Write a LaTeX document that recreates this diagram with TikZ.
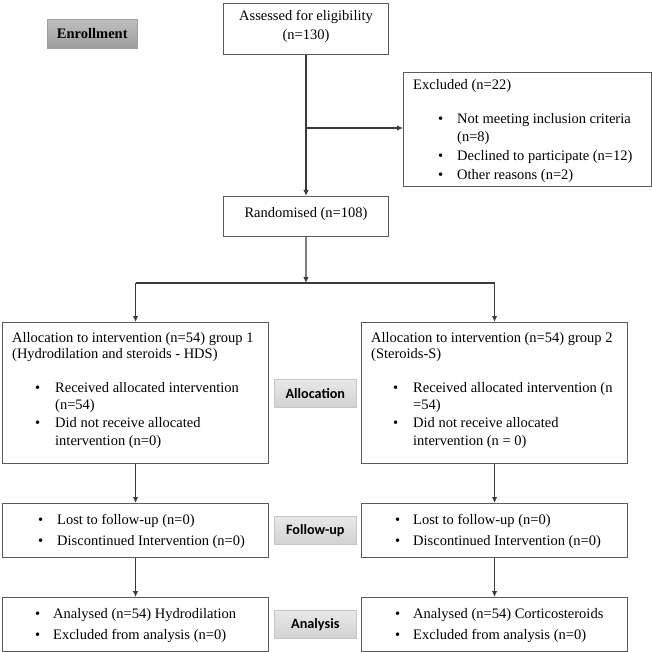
\documentclass[tikz,border=0pt]{standalone}
\usepackage{fontspec}
\setmainfont{Liberation Serif}
\newfontfamily\lblfont{Carlito}
\usetikzlibrary{arrows.meta,calc}
\definecolor{boxgray}{HTML}{5A5A5A}
\definecolor{linegray}{HTML}{3A3A3A}
\begin{document}
\begin{tikzpicture}[x=1pt,y=-1pt,
  box/.style={draw=boxgray, line width=1.1pt, rectangle, inner sep=0pt, anchor=north west, fill=white},
  txt/.style={inner sep=0pt, font=\fontsize{14.5}{17}\selectfont, text=black},
  enrstage/.style={rectangle, inner sep=0pt, anchor=north west, draw=gray!75, line width=0.6pt,
     top color=gray!50, bottom color=gray!78, font=\fontsize{14.5}{17}\selectfont\bfseries},
  stagelbl/.style={rectangle, inner sep=0pt, anchor=north west, draw=gray!45, line width=0.6pt,
     top color=gray!18, bottom color=gray!35, font=\lblfont\fontsize{14.2}{17}\selectfont\bfseries, minimum width=82pt, minimum height=28pt},
  arr/.style={draw=linegray, line width=1.3pt, -{Latex[length=6pt,width=5.5pt]}},
  ln/.style={draw=linegray, line width=1.3pt}
]
\useasboundingbox (0,0) rectangle (652,652);

% stage labels
\node[enrstage, minimum width=90pt, minimum height=29pt] (enr) at (47,19) {Enrollment};
\node[stagelbl] (alo) at (274,379) {Allocation};
\node[stagelbl] (fol) at (274,516) {Follow-up};
\node[stagelbl] (ana) at (274,610) {Analysis};

% boxes
\node[box, minimum width=165pt, minimum height=51pt] (assess) at (223,3) {};
\node[box, minimum width=248pt, minimum height=114pt] (excl) at (403,72) {};
\node[box, minimum width=165pt, minimum height=40pt] (rand) at (223,196) {};
\node[box, minimum width=266pt, minimum height=141pt] (a1) at (2,322) {};
\node[box, minimum width=266pt, minimum height=141pt] (a2) at (361,322) {};
\node[box, minimum width=266pt, minimum height=54pt] (f1) at (2,503) {};
\node[box, minimum width=266pt, minimum height=54pt] (f2) at (361,503) {};
\node[box, minimum width=266pt, minimum height=54pt] (n1) at (2,597) {};
\node[box, minimum width=266pt, minimum height=54pt] (n2) at (361,597) {};

% texts
\node[txt, anchor=base] (asT1) at (306,21) {Assessed for eligibility};
\node[txt, anchor=base] (asT2) at (306,40) {(n=130)};

\node[txt, anchor=base west] (exT0) at (413,90) {Excluded (n=22)};
\node[txt, anchor=base west] (exB1) at (438,124) {•};
\node[txt, anchor=base west] (exT1) at (457,124) {Not meeting inclusion criteria};
\node[txt, anchor=base west] (exT2) at (457,142) {(n=8)};
\node[txt, anchor=base west] (exB3) at (438,161) {•};
\node[txt, anchor=base west] (exT3) at (457,161) {Declined to participate (n=12)};
\node[txt, anchor=base west] (exB4) at (438,180) {•};
\node[txt, anchor=base west] (exT4) at (457,180) {Other reasons (n=2)};

\node[txt, anchor=base] (raT) at (306,217) {Randomised (n=108)};

\node[txt, anchor=base west] (a1T1) at (12,342) {Allocation to intervention (n=54) group 1};
\node[txt, anchor=base west] (a1T2) at (12,358) {(Hydrodilation and steroids - HDS)};
\node[txt, anchor=base west] (a1B3) at (35,392) {•};
\node[txt, anchor=base west] (a1T3) at (55,392) {Received allocated intervention};
\node[txt, anchor=base west] (a1T4) at (55,409) {(n=54)};
\node[txt, anchor=base west] (a1B5) at (35,427) {•};
\node[txt, anchor=base west] (a1T5) at (55,427) {Did not receive allocated};
\node[txt, anchor=base west] (a1T6) at (55,445) {intervention (n=0)};

\node[txt, anchor=base west] (a2T1) at (371,342) {Allocation to intervention (n=54) group 2};
\node[txt, anchor=base west] (a2T2) at (371,358) {(Steroids-S)};
\node[txt, anchor=base west] (a2B3) at (393,392) {•};
\node[txt, anchor=base west] (a2T3) at (413,392) {Received allocated intervention (n};
\node[txt, anchor=base west] (a2T4) at (413,409) {=54)};
\node[txt, anchor=base west] (a2B5) at (393,427) {•};
\node[txt, anchor=base west] (a2T5) at (413,427) {Did not receive allocated};
\node[txt, anchor=base west] (a2T6) at (413,445) {intervention (n = 0)};

\node[txt, anchor=base west] (f1B1) at (38,524) {•};
\node[txt, anchor=base west] (f1T1) at (57,524) {Lost to follow-up (n=0)};
\node[txt, anchor=base west] (f1B2) at (38,545) {•};
\node[txt, anchor=base west] (f1T2) at (57,545) {Discontinued Intervention (n=0)};

\node[txt, anchor=base west] (f2B1) at (395,524) {•};
\node[txt, anchor=base west] (f2T1) at (413,524) {Lost to follow-up (n=0)};
\node[txt, anchor=base west] (f2B2) at (395,545) {•};
\node[txt, anchor=base west] (f2T2) at (413,545) {Discontinued Intervention (n=0)};

\node[txt, anchor=base west] (n1B1) at (35,618) {•};
\node[txt, anchor=base west] (n1T1) at (53,618) {Analysed (n=54) Hydrodilation};
\node[txt, anchor=base west] (n1B2) at (35,639) {•};
\node[txt, anchor=base west] (n1T2) at (53,639) {Excluded from analysis (n=0)};

\node[txt, anchor=base west] (n2B1) at (395,618) {•};
\node[txt, anchor=base west] (n2T1) at (413,618) {Analysed (n=54) Corticosteroids};
\node[txt, anchor=base west] (n2B2) at (395,639) {•};
\node[txt, anchor=base west] (n2T2) at (413,639) {Excluded from analysis (n=0)};

% connectors
\coordinate (br) at (306,128);
\coordinate (split) at (306,283);
\draw[arr] (assess.south) -- (rand.north);
\draw[arr] (br) -- (br -| excl.west);
\draw[arr] (rand.south) -- (split);
\draw[ln] (a1.north |- split) -- (a2.north |- split);
\draw[arr] (a1.north |- split) -- (a1.north);
\draw[arr] (a2.north |- split) -- (a2.north);
\draw[arr] (a1.south) -- (f1.north);
\draw[arr] (a2.south) -- (f2.north);
\draw[arr] (f1.south) -- (n1.north);
\draw[arr] (f2.south) -- (n2.north);
\end{tikzpicture}
\end{document}
